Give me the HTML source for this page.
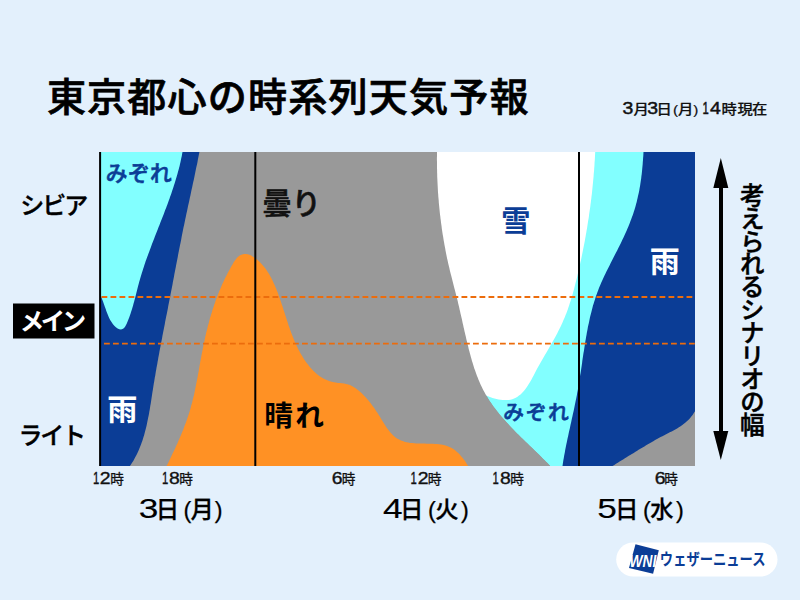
<!DOCTYPE html>
<html lang="ja">
<head>
<meta charset="utf-8">
<title>東京都心の時系列天気予報</title>
<style>
html,body{margin:0;padding:0;}
body{width:800px;height:600px;overflow:hidden;background:#e3f0fc;font-family:"Liberation Sans","Noto Sans CJK JP",sans-serif;}
svg{display:block;}
text{font-family:"Liberation Sans","Noto Sans CJK JP",sans-serif;}
.lat{font-family:"Liberation Sans","Noto Sans CJK JP",sans-serif;}
</style>
</head>
<body>
<svg width="800" height="600" viewBox="0 0 800 600">
  <rect x="0" y="0" width="800" height="600" fill="#e3f0fc"/>
  <!-- chart -->
  <rect x="100" y="152" width="595" height="314" fill="#999999"/>
  <path d="M100 152 L199.4 152.0 L199.0 154.0 L198.6 156.0 L198.2 157.9 L197.8 159.9 L197.5 161.9 L197.1 163.9 L196.6 165.9 L196.2 167.8 L195.8 169.8 L195.4 171.8 L195.0 173.8 L194.6 175.7 L194.2 177.7 L193.8 179.7 L193.3 181.7 L192.9 183.6 L192.5 185.6 L192.1 187.6 L191.6 189.5 L191.2 191.5 L190.8 193.5 L190.4 195.5 L189.9 197.4 L189.5 199.4 L189.1 201.4 L188.7 203.3 L188.2 205.3 L187.8 207.3 L187.4 209.3 L187.0 211.2 L186.5 213.2 L186.1 215.2 L185.7 217.2 L185.3 219.1 L184.9 221.1 L184.5 223.1 L184.1 225.1 L183.6 227.0 L183.2 229.0 L182.8 231.0 L182.4 233.0 L182.0 234.9 L181.6 236.9 L181.3 238.9 L180.9 240.9 L180.5 242.9 L180.1 244.8 L179.7 246.8 L179.3 248.8 L178.9 250.8 L178.5 252.8 L178.1 254.8 L177.8 256.7 L177.4 258.7 L177.0 260.7 L176.6 262.7 L176.2 264.7 L175.9 266.6 L175.5 268.6 L175.1 270.6 L174.7 272.6 L174.3 274.6 L174.0 276.6 L173.6 278.5 L173.2 280.5 L172.8 282.5 L172.5 284.5 L172.1 286.5 L171.7 288.4 L171.3 290.4 L170.9 292.4 L170.5 294.4 L170.2 296.4 L169.8 298.3 L169.4 300.3 L169.0 302.3 L168.6 304.3 L168.2 306.2 L167.9 308.2 L167.5 310.2 L167.1 312.2 L166.7 314.2 L166.3 316.1 L165.9 318.1 L165.5 320.1 L165.1 322.1 L164.8 324.1 L164.4 326.0 L164.0 328.0 L163.6 330.0 L163.2 332.0 L162.8 333.9 L162.4 335.9 L162.1 337.9 L161.7 339.9 L161.3 341.9 L160.9 343.8 L160.6 345.8 L160.2 347.8 L159.8 349.8 L159.4 351.8 L159.1 353.8 L158.7 355.8 L158.3 357.7 L158.0 359.7 L157.6 361.7 L157.3 363.7 L156.9 365.7 L156.5 367.7 L156.2 369.7 L155.8 371.7 L155.5 373.7 L155.2 375.7 L154.8 377.6 L154.5 379.6 L154.2 381.6 L153.8 383.6 L153.5 385.6 L153.2 387.6 L152.9 389.6 L152.5 391.7 L152.2 393.7 L151.9 395.7 L151.6 397.7 L151.3 399.7 L151.0 401.7 L150.7 403.7 L150.3 405.7 L150.0 407.7 L149.7 409.7 L149.3 411.7 L149.0 413.7 L148.6 415.7 L148.2 417.6 L147.8 419.6 L147.4 421.6 L147.0 423.5 L146.6 425.5 L146.1 427.5 L145.6 429.4 L145.1 431.3 L144.6 433.3 L144.1 435.2 L143.5 437.1 L142.9 439.0 L142.3 440.9 L141.6 442.8 L141.0 444.6 L140.2 446.5 L139.5 448.3 L138.7 450.2 L137.9 452.0 L137.1 453.8 L136.2 455.6 L135.2 457.3 L134.3 459.1 L133.3 460.9 L132.2 462.6 L131.1 464.3 L130.0 466.0 L100 466 Z" fill="#0b3d96"/>
  <path d="M100 152 L182.5 152.0 L182.1 154.0 L181.8 156.0 L181.3 158.0 L180.9 160.0 L180.5 161.9 L180.0 163.9 L179.6 165.9 L179.1 167.8 L178.6 169.8 L178.0 171.7 L177.5 173.7 L177.0 175.6 L176.4 177.6 L175.8 179.5 L175.2 181.4 L174.6 183.4 L174.0 185.3 L173.4 187.2 L172.8 189.1 L172.1 191.1 L171.5 193.0 L170.8 194.9 L170.1 196.8 L169.5 198.7 L168.8 200.6 L168.1 202.5 L167.4 204.4 L166.7 206.3 L166.0 208.2 L165.2 210.1 L164.5 212.0 L163.8 213.9 L163.1 215.8 L162.3 217.7 L161.6 219.6 L160.8 221.4 L160.1 223.3 L159.4 225.2 L158.6 227.1 L157.9 229.0 L157.1 230.9 L156.4 232.8 L155.7 234.6 L154.9 236.5 L154.2 238.4 L153.5 240.3 L152.7 242.2 L152.0 244.1 L151.3 246.0 L150.6 247.9 L149.9 249.8 L149.2 251.7 L148.5 253.5 L147.8 255.4 L147.1 257.3 L146.4 259.2 L145.7 261.1 L145.1 263.1 L144.4 265.0 L143.8 266.9 L143.2 268.8 L142.6 270.7 L142.0 272.6 L141.4 274.5 L140.8 276.5 L140.2 278.4 L139.7 280.3 L139.1 282.3 L138.6 284.2 L138.1 286.1 L137.6 288.1 L137.1 290.0 L136.6 292.0 L136.1 293.9 L135.6 295.9 L135.1 297.9 L134.6 299.8 L134.1 301.8 L133.5 303.8 L133.0 305.7 L132.4 307.7 L131.8 309.7 L131.2 311.6 L130.6 313.6 L129.9 315.6 L129.2 317.5 L128.4 319.5 L127.6 321.5 L126.8 323.4 L125.9 325.2 L124.9 326.9 L123.8 328.2 L122.5 329.1 L121.0 329.4 L119.3 329.2 L117.6 328.4 L115.9 327.3 L114.3 325.8 L112.8 324.0 L111.5 322.1 L110.3 320.2 L109.4 318.4 L108.5 316.5 L107.7 314.6 L107.0 312.8 L106.3 310.9 L105.7 309.1 L105.0 307.2 L104.4 305.4 L103.7 303.5 L103.0 301.6 L102.3 299.8 L101.6 297.9 L100.8 295.9 L100.0 294.0 Z" fill="#82ffff"/>
  <path d="M437.0 152.0 L437.0 154.0 L437.0 156.1 L436.9 158.1 L436.9 160.1 L437.0 162.1 L437.0 164.2 L437.0 166.2 L437.0 168.2 L437.1 170.2 L437.1 172.2 L437.2 174.3 L437.2 176.3 L437.3 178.3 L437.4 180.3 L437.5 182.4 L437.6 184.4 L437.7 186.4 L437.8 188.4 L437.9 190.4 L438.0 192.5 L438.2 194.5 L438.3 196.5 L438.5 198.5 L438.7 200.5 L438.8 202.5 L439.0 204.5 L439.2 206.6 L439.4 208.6 L439.6 210.6 L439.8 212.6 L440.0 214.6 L440.3 216.6 L440.5 218.6 L440.8 220.6 L441.0 222.6 L441.3 224.6 L441.6 226.6 L441.8 228.6 L442.1 230.6 L442.4 232.6 L442.7 234.6 L443.1 236.6 L443.4 238.6 L443.7 240.6 L444.1 242.6 L444.4 244.6 L444.8 246.6 L445.2 248.5 L445.5 250.5 L445.9 252.5 L446.3 254.5 L446.7 256.5 L447.1 258.4 L447.6 260.4 L448.0 262.4 L448.4 264.3 L448.9 266.3 L449.4 268.3 L449.8 270.2 L450.3 272.2 L450.8 274.2 L451.3 276.1 L451.8 278.1 L452.3 280.0 L452.8 282.0 L453.3 283.9 L453.8 285.9 L454.3 287.9 L454.8 289.8 L455.3 291.8 L455.8 293.7 L456.3 295.7 L456.8 297.6 L457.3 299.6 L457.8 301.6 L458.2 303.5 L458.7 305.5 L459.2 307.5 L459.6 309.5 L460.1 311.4 L460.5 313.4 L461.0 315.4 L461.4 317.3 L461.9 319.3 L462.3 321.3 L462.7 323.3 L463.2 325.3 L463.6 327.2 L464.1 329.2 L464.5 331.2 L465.0 333.2 L465.4 335.1 L465.9 337.1 L466.3 339.1 L466.8 341.1 L467.3 343.0 L467.8 345.0 L468.3 347.0 L468.7 349.0 L469.3 350.9 L469.8 352.9 L470.3 354.8 L470.8 356.8 L471.4 358.7 L471.9 360.7 L472.5 362.6 L473.1 364.6 L473.7 366.5 L474.3 368.4 L475.0 370.3 L475.7 372.2 L476.3 374.1 L477.0 376.0 L477.8 377.8 L478.5 379.7 L479.3 381.5 L480.1 383.4 L480.9 385.2 L481.8 387.0 L482.6 388.8 L483.5 390.6 L484.5 392.3 L485.4 394.1 L486.4 395.8 L487.5 397.5 L488.5 399.2 L489.6 400.9 L490.7 402.6 L491.9 404.2 L493.0 405.9 L494.2 407.5 L495.4 409.1 L496.7 410.7 L497.9 412.3 L499.2 413.9 L500.5 415.4 L501.8 417.0 L503.1 418.5 L504.5 420.0 L505.8 421.6 L507.2 423.1 L508.6 424.6 L509.9 426.0 L511.3 427.5 L512.8 429.0 L514.2 430.4 L515.6 431.9 L517.0 433.4 L518.5 434.8 L519.9 436.2 L521.4 437.7 L522.8 439.1 L524.3 440.5 L525.8 441.9 L527.2 443.3 L528.7 444.8 L530.2 446.2 L531.6 447.6 L533.1 449.0 L534.6 450.4 L536.0 451.8 L537.5 453.2 L538.9 454.6 L540.3 456.0 L541.8 457.4 L543.2 458.9 L544.6 460.3 L546.0 461.7 L547.4 463.1 L548.8 464.6 L550.2 466.0 L695 466 L695 152 Z" fill="#82ffff"/>
  <path d="M430 152 L430 395 L485.0 395.0 L486.8 395.7 L488.7 396.5 L490.6 397.2 L492.5 397.9 L494.5 398.5 L496.5 399.0 L498.6 399.5 L500.6 399.8 L502.6 400.0 L504.6 400.1 L506.6 400.1 L508.6 400.0 L510.5 399.7 L512.3 399.2 L514.1 398.6 L515.8 397.7 L517.5 396.8 L519.0 395.6 L520.5 394.4 L522.0 393.0 L523.4 391.5 L524.7 389.9 L526.0 388.3 L527.2 386.6 L528.3 384.8 L529.4 383.0 L530.5 381.2 L531.5 379.4 L532.5 377.6 L533.5 375.7 L534.4 373.9 L535.4 372.1 L536.3 370.3 L537.2 368.5 L538.2 366.7 L539.2 365.0 L540.2 363.2 L541.2 361.5 L542.2 359.7 L543.2 358.0 L544.2 356.3 L545.2 354.5 L546.3 352.8 L547.3 351.1 L548.3 349.3 L549.3 347.6 L550.3 345.8 L551.3 344.1 L552.3 342.3 L553.3 340.6 L554.3 338.8 L555.3 337.0 L556.2 335.2 L557.2 333.4 L558.1 331.6 L559.0 329.8 L559.9 328.0 L560.8 326.2 L561.7 324.3 L562.5 322.5 L563.3 320.6 L564.1 318.8 L564.9 316.9 L565.6 315.0 L566.4 313.2 L567.1 311.3 L567.8 309.4 L568.4 307.4 L569.1 305.5 L569.7 303.6 L570.3 301.7 L571.0 299.7 L571.5 297.8 L572.1 295.9 L572.7 293.9 L573.2 291.9 L573.8 290.0 L574.3 288.0 L574.8 286.1 L575.3 284.1 L575.8 282.1 L576.3 280.2 L576.8 278.2 L577.3 276.2 L577.7 274.2 L578.2 272.2 L578.7 270.3 L579.1 268.3 L579.6 266.3 L580.0 264.3 L580.4 262.3 L580.9 260.4 L581.3 258.4 L581.7 256.4 L582.1 254.4 L582.5 252.4 L582.9 250.4 L583.3 248.5 L583.7 246.5 L584.1 244.5 L584.5 242.5 L584.9 240.5 L585.2 238.5 L585.6 236.5 L585.9 234.5 L586.3 232.5 L586.6 230.5 L587.0 228.5 L587.3 226.5 L587.6 224.5 L587.9 222.5 L588.2 220.5 L588.6 218.5 L588.9 216.5 L589.1 214.5 L589.4 212.5 L589.7 210.5 L590.0 208.5 L590.3 206.5 L590.5 204.5 L590.8 202.5 L591.0 200.5 L591.3 198.5 L591.5 196.5 L591.8 194.4 L592.0 192.4 L592.2 190.4 L592.4 188.4 L592.6 186.4 L592.8 184.4 L593.0 182.4 L593.2 180.3 L593.4 178.3 L593.6 176.3 L593.7 174.3 L593.9 172.3 L594.1 170.2 L594.2 168.2 L594.4 166.2 L594.5 164.2 L594.6 162.1 L594.8 160.1 L594.9 158.1 L595.0 156.1 L595.1 154.0 L595.2 152.0 Z" fill="#ffffff"/>
  <path d="M430 152 L437.0 152.0 L437.0 154.0 L437.0 156.1 L436.9 158.1 L436.9 160.1 L437.0 162.1 L437.0 164.2 L437.0 166.2 L437.0 168.2 L437.1 170.2 L437.1 172.2 L437.2 174.3 L437.2 176.3 L437.3 178.3 L437.4 180.3 L437.5 182.4 L437.6 184.4 L437.7 186.4 L437.8 188.4 L437.9 190.4 L438.0 192.5 L438.2 194.5 L438.3 196.5 L438.5 198.5 L438.7 200.5 L438.8 202.5 L439.0 204.5 L439.2 206.6 L439.4 208.6 L439.6 210.6 L439.8 212.6 L440.0 214.6 L440.3 216.6 L440.5 218.6 L440.8 220.6 L441.0 222.6 L441.3 224.6 L441.6 226.6 L441.8 228.6 L442.1 230.6 L442.4 232.6 L442.7 234.6 L443.1 236.6 L443.4 238.6 L443.7 240.6 L444.1 242.6 L444.4 244.6 L444.8 246.6 L445.2 248.5 L445.5 250.5 L445.9 252.5 L446.3 254.5 L446.7 256.5 L447.1 258.4 L447.6 260.4 L448.0 262.4 L448.4 264.3 L448.9 266.3 L449.4 268.3 L449.8 270.2 L450.3 272.2 L450.8 274.2 L451.3 276.1 L451.8 278.1 L452.3 280.0 L452.8 282.0 L453.3 283.9 L453.8 285.9 L454.3 287.9 L454.8 289.8 L455.3 291.8 L455.8 293.7 L456.3 295.7 L456.8 297.6 L457.3 299.6 L457.8 301.6 L458.2 303.5 L458.7 305.5 L459.2 307.5 L459.6 309.5 L460.1 311.4 L460.5 313.4 L461.0 315.4 L461.4 317.3 L461.9 319.3 L462.3 321.3 L462.7 323.3 L463.2 325.3 L463.6 327.2 L464.1 329.2 L464.5 331.2 L465.0 333.2 L465.4 335.1 L465.9 337.1 L466.3 339.1 L466.8 341.1 L467.3 343.0 L467.8 345.0 L468.3 347.0 L468.7 349.0 L469.3 350.9 L469.8 352.9 L470.3 354.8 L470.8 356.8 L471.4 358.7 L471.9 360.7 L472.5 362.6 L473.1 364.6 L473.7 366.5 L474.3 368.4 L475.0 370.3 L475.7 372.2 L476.3 374.1 L477.0 376.0 L477.8 377.8 L478.5 379.7 L479.3 381.5 L480.1 383.4 L480.9 385.2 L481.8 387.0 L482.6 388.8 L483.5 390.6 L484.5 392.3 L485.4 394.1 L486.4 395.8 L487.5 397.5 L488.5 399.2 L489.6 400.9 L490.7 402.6 L491.9 404.2 L493.0 405.9 L494.2 407.5 L495.4 409.1 L496.7 410.7 L497.9 412.3 L499.2 413.9 L500.5 415.4 L501.8 417.0 L503.1 418.5 L504.5 420.0 L505.8 421.6 L507.2 423.1 L508.6 424.6 L509.9 426.0 L511.3 427.5 L512.8 429.0 L514.2 430.4 L515.6 431.9 L517.0 433.4 L518.5 434.8 L519.9 436.2 L521.4 437.7 L522.8 439.1 L524.3 440.5 L525.8 441.9 L527.2 443.3 L528.7 444.8 L530.2 446.2 L531.6 447.6 L533.1 449.0 L534.6 450.4 L536.0 451.8 L537.5 453.2 L538.9 454.6 L540.3 456.0 L541.8 457.4 L543.2 458.9 L544.6 460.3 L546.0 461.7 L547.4 463.1 L548.8 464.6 L550.2 466.0 L430 466 Z" fill="#999999"/>
  <path d="M166.6 466.0 L167.5 464.2 L168.4 462.4 L169.3 460.6 L170.1 458.8 L171.0 457.0 L171.9 455.1 L172.7 453.3 L173.6 451.5 L174.5 449.7 L175.3 447.9 L176.1 446.0 L177.0 444.2 L177.8 442.4 L178.6 440.5 L179.4 438.7 L180.2 436.8 L181.0 435.0 L181.8 433.1 L182.5 431.2 L183.3 429.4 L184.0 427.5 L184.7 425.6 L185.4 423.8 L186.1 421.9 L186.8 420.0 L187.4 418.1 L188.1 416.2 L188.7 414.3 L189.3 412.4 L189.9 410.4 L190.5 408.5 L191.0 406.6 L191.5 404.6 L192.1 402.7 L192.5 400.7 L193.0 398.8 L193.5 396.8 L194.0 394.9 L194.4 392.9 L194.8 390.9 L195.2 388.9 L195.6 387.0 L196.0 385.0 L196.4 383.0 L196.8 381.0 L197.2 379.0 L197.6 377.1 L197.9 375.1 L198.3 373.1 L198.7 371.1 L199.0 369.1 L199.4 367.1 L199.7 365.1 L200.1 363.1 L200.4 361.1 L200.8 359.2 L201.2 357.2 L201.5 355.2 L201.9 353.2 L202.3 351.2 L202.7 349.3 L203.1 347.3 L203.5 345.3 L203.9 343.4 L204.3 341.4 L204.7 339.4 L205.1 337.5 L205.6 335.5 L206.0 333.6 L206.5 331.6 L207.0 329.7 L207.5 327.8 L207.9 325.8 L208.5 323.9 L209.0 322.0 L209.5 320.0 L210.0 318.1 L210.6 316.2 L211.2 314.3 L211.8 312.4 L212.3 310.5 L213.0 308.6 L213.6 306.7 L214.2 304.8 L214.9 302.9 L215.5 301.0 L216.2 299.1 L216.9 297.2 L217.7 295.3 L218.4 293.5 L219.1 291.6 L219.9 289.7 L220.7 287.9 L221.5 286.0 L222.3 284.1 L223.2 282.3 L224.0 280.4 L224.9 278.6 L225.8 276.7 L226.8 274.9 L227.7 273.0 L228.7 271.2 L229.7 269.4 L230.7 267.6 L231.7 265.7 L232.8 263.9 L233.8 262.1 L235.0 260.4 L236.2 258.8 L237.5 257.3 L239.0 256.1 L240.6 255.1 L242.2 254.4 L244.0 254.0 L245.8 253.9 L247.6 254.2 L249.4 254.8 L251.2 255.6 L252.9 256.7 L254.6 257.8 L256.2 259.0 L257.8 260.2 L259.2 261.6 L260.7 262.9 L262.0 264.4 L263.3 265.9 L264.6 267.4 L265.8 269.0 L266.9 270.7 L268.0 272.4 L269.1 274.1 L270.1 275.9 L271.0 277.6 L272.0 279.5 L272.9 281.3 L273.7 283.2 L274.6 285.0 L275.4 286.9 L276.2 288.8 L276.9 290.7 L277.7 292.6 L278.4 294.6 L279.1 296.5 L279.8 298.4 L280.4 300.3 L281.1 302.3 L281.7 304.2 L282.4 306.1 L283.0 308.1 L283.6 310.0 L284.3 311.9 L284.9 313.9 L285.5 315.8 L286.1 317.7 L286.7 319.6 L287.4 321.5 L288.0 323.5 L288.6 325.4 L289.3 327.3 L289.9 329.1 L290.6 331.0 L291.3 332.9 L292.0 334.8 L292.7 336.6 L293.5 338.5 L294.2 340.3 L295.0 342.2 L295.8 344.0 L296.6 345.8 L297.5 347.6 L298.4 349.4 L299.3 351.1 L300.3 352.9 L301.2 354.6 L302.3 356.3 L303.3 358.0 L304.4 359.7 L305.6 361.4 L306.7 363.0 L308.0 364.6 L309.2 366.2 L310.5 367.8 L311.9 369.2 L313.3 370.7 L314.7 372.1 L316.2 373.4 L317.7 374.7 L319.3 375.9 L320.9 377.0 L322.6 378.0 L324.3 379.0 L326.1 379.8 L327.9 380.6 L329.8 381.3 L331.7 381.8 L333.7 382.3 L335.8 382.6 L337.8 382.9 L339.9 383.1 L342.0 383.3 L344.1 383.6 L346.1 383.9 L348.1 384.4 L350.0 385.0 L351.8 385.9 L353.6 386.9 L355.3 388.0 L356.9 389.2 L358.5 390.5 L360.0 391.8 L361.5 393.1 L362.9 394.5 L364.3 395.9 L365.6 397.3 L366.9 398.8 L368.2 400.2 L369.4 401.8 L370.7 403.3 L371.9 404.9 L373.0 406.5 L374.2 408.1 L375.3 409.7 L376.4 411.4 L377.6 413.1 L378.7 414.9 L379.8 416.6 L380.9 418.4 L382.0 420.2 L383.1 422.0 L384.2 423.8 L385.3 425.6 L386.5 427.4 L387.7 429.1 L389.0 430.7 L390.2 432.3 L391.6 433.8 L393.0 435.2 L394.4 436.5 L395.9 437.7 L397.5 438.7 L399.1 439.6 L400.9 440.4 L402.6 441.1 L404.5 441.7 L406.3 442.2 L408.3 442.5 L410.2 442.9 L412.2 443.1 L414.3 443.3 L416.3 443.4 L418.4 443.5 L420.5 443.6 L422.5 443.6 L424.6 443.6 L426.7 443.7 L428.8 443.7 L430.9 443.7 L432.9 443.8 L434.9 443.9 L436.9 444.0 L438.9 444.2 L440.8 444.5 L442.7 444.8 L444.6 445.2 L446.4 445.8 L448.2 446.4 L450.0 447.2 L451.7 448.1 L453.4 449.1 L455.1 450.3 L456.7 451.7 L458.2 453.1 L459.7 454.6 L461.1 456.2 L462.5 457.8 L463.8 459.5 L465.0 461.1 L466.1 462.8 L467.1 464.4 L468.1 466.0 Z" fill="#ff9124"/>
  <path d="M643.5 152.0 L643.4 154.0 L643.3 156.0 L643.1 158.1 L643.0 160.1 L642.8 162.1 L642.7 164.1 L642.5 166.1 L642.3 168.1 L642.1 170.2 L641.9 172.2 L641.7 174.2 L641.4 176.2 L641.2 178.2 L640.9 180.2 L640.6 182.2 L640.3 184.2 L640.0 186.2 L639.6 188.2 L639.3 190.2 L638.9 192.2 L638.5 194.1 L638.0 196.1 L637.6 198.1 L637.1 200.0 L636.7 202.0 L636.1 203.9 L635.6 205.9 L635.1 207.8 L634.5 209.7 L633.9 211.6 L633.3 213.5 L632.6 215.4 L631.9 217.3 L631.2 219.2 L630.5 221.1 L629.8 223.0 L629.1 224.8 L628.3 226.7 L627.5 228.5 L626.7 230.4 L625.9 232.2 L625.1 234.1 L624.2 235.9 L623.4 237.7 L622.5 239.6 L621.6 241.4 L620.8 243.2 L619.9 245.0 L619.0 246.8 L618.1 248.6 L617.2 250.4 L616.2 252.2 L615.3 254.0 L614.4 255.8 L613.5 257.6 L612.5 259.4 L611.6 261.2 L610.7 263.0 L609.8 264.9 L608.9 266.7 L608.0 268.5 L607.1 270.3 L606.2 272.1 L605.3 273.9 L604.4 275.7 L603.6 277.5 L602.7 279.4 L601.9 281.2 L601.1 283.0 L600.3 284.9 L599.5 286.7 L598.8 288.6 L598.1 290.4 L597.4 292.3 L596.7 294.2 L596.0 296.1 L595.4 298.0 L594.8 299.9 L594.2 301.8 L593.6 303.7 L593.0 305.6 L592.5 307.6 L592.0 309.5 L591.5 311.4 L591.0 313.4 L590.5 315.3 L590.0 317.3 L589.6 319.3 L589.2 321.2 L588.8 323.2 L588.3 325.2 L587.9 327.1 L587.6 329.1 L587.2 331.1 L586.8 333.1 L586.5 335.0 L586.1 337.0 L585.8 339.0 L585.4 341.0 L585.1 343.0 L584.8 345.0 L584.5 347.0 L584.2 349.0 L583.9 351.0 L583.5 353.0 L583.2 355.0 L582.9 357.0 L582.6 359.0 L582.3 361.0 L582.1 363.0 L581.8 365.0 L581.5 367.0 L581.2 369.0 L580.9 371.0 L580.6 373.0 L580.2 375.0 L579.9 377.0 L579.6 379.0 L579.3 381.0 L579.0 383.0 L578.6 385.0 L578.3 387.0 L578.0 389.0 L577.6 391.0 L577.2 392.9 L576.9 394.9 L576.5 396.9 L576.1 398.9 L575.7 400.8 L575.3 402.8 L574.9 404.8 L574.5 406.8 L574.1 408.7 L573.7 410.7 L573.2 412.7 L572.8 414.6 L572.4 416.6 L571.9 418.6 L571.5 420.5 L571.1 422.5 L570.6 424.5 L570.2 426.4 L569.8 428.4 L569.3 430.4 L568.9 432.3 L568.5 434.3 L568.1 436.3 L567.6 438.2 L567.2 440.2 L566.8 442.2 L566.4 444.1 L566.0 446.1 L565.6 448.1 L565.2 450.1 L564.9 452.1 L564.5 454.0 L564.1 456.0 L563.8 458.0 L563.4 460.0 L563.1 462.0 L562.8 464.0 L562.5 466.0 L695 466 L695 152 Z" fill="#0b3d96"/>
  <path d="M612.5 466.0 L614.3 464.9 L616.0 463.8 L617.8 462.7 L619.6 461.6 L621.3 460.5 L623.1 459.4 L624.9 458.3 L626.6 457.2 L628.4 456.1 L630.2 455.0 L631.9 453.9 L633.7 452.9 L635.5 451.8 L637.2 450.7 L639.0 449.6 L640.8 448.5 L642.6 447.5 L644.4 446.4 L646.1 445.3 L647.9 444.3 L649.7 443.2 L651.5 442.2 L653.3 441.2 L655.1 440.1 L657.0 439.1 L658.8 438.1 L660.6 437.1 L662.4 436.2 L664.3 435.2 L666.1 434.2 L668.0 433.3 L669.8 432.3 L671.7 431.4 L673.5 430.4 L675.3 429.4 L677.1 428.4 L678.9 427.3 L680.6 426.2 L682.3 425.0 L683.9 423.8 L685.5 422.5 L687.1 421.1 L688.6 419.7 L690.0 418.2 L691.3 416.6 L692.6 414.9 L693.8 413.1 L695.0 411.2 L695 466 Z" fill="#999999"/>
  <!-- dashed lines -->
  <line x1="101.5" y1="297" x2="695" y2="297" stroke="#ec6c0c" stroke-width="1.8" stroke-dasharray="5.8 3.2"/>
  <line x1="104" y1="343.7" x2="695" y2="343.7" stroke="#ec6c0c" stroke-width="1.8" stroke-dasharray="5.8 3.2"/>
  <!-- vertical lines -->
  <rect x="99.1" y="152" width="2" height="314" fill="#000"/>
  <rect x="254.3" y="152" width="2" height="314" fill="#000"/>
  <rect x="578" y="152" width="2" height="314" fill="#000"/>
  <!-- title -->
  <text x="46.9" y="111.3" font-size="39.1" font-weight="500" fill="#000" stroke="#000" stroke-width="0.7" letter-spacing="1.15">東京都心の時系列天気予報</text>
  <text y="113.6" font-size="13.7" font-weight="500" fill="#111" stroke="#111" stroke-width="0.2"><tspan class="lat" font-size="16.2" font-weight="400" stroke="#111" stroke-width="0.45" x="622.4" textLength="10.8" lengthAdjust="spacingAndGlyphs">3</tspan><tspan x="633.6" textLength="15.3" lengthAdjust="spacingAndGlyphs">月</tspan><tspan class="lat" font-size="16.2" font-weight="400" stroke="#111" stroke-width="0.45" x="647.2" textLength="10.8" lengthAdjust="spacingAndGlyphs">3</tspan><tspan x="656.4 673.1 678.1 693.3" textLength="40.9" lengthAdjust="spacingAndGlyphs">日(月)</tspan><tspan class="lat" font-size="16.2" font-weight="400" stroke="#111" stroke-width="0.45" x="702.4" textLength="6.3" lengthAdjust="spacingAndGlyphs">1</tspan><tspan class="lat" font-size="16.2" font-weight="400" stroke="#111" stroke-width="0.45" x="710.0" textLength="10.8" lengthAdjust="spacingAndGlyphs">4</tspan><tspan x="721.4 737.6 751.9" textLength="46.0" lengthAdjust="spacingAndGlyphs">時現在</tspan></text>
  <text y="483.6" font-size="13.6" font-weight="400" fill="#111" stroke="#111" stroke-width="0.3"><tspan class="lat" font-size="16.2" font-weight="400" stroke="#111" stroke-width="0.35" x="92.9" textLength="6.3" lengthAdjust="spacingAndGlyphs">1</tspan><tspan class="lat" font-size="16.2" font-weight="400" stroke="#111" stroke-width="0.35" x="99.8" textLength="10.8" lengthAdjust="spacingAndGlyphs">2</tspan><tspan x="110.3">時</tspan></text>
  <text y="483.6" font-size="13.6" font-weight="400" fill="#111" stroke="#111" stroke-width="0.3"><tspan class="lat" font-size="16.2" font-weight="400" stroke="#111" stroke-width="0.35" x="161.9" textLength="6.3" lengthAdjust="spacingAndGlyphs">1</tspan><tspan class="lat" font-size="16.2" font-weight="400" stroke="#111" stroke-width="0.35" x="168.9" textLength="10.8" lengthAdjust="spacingAndGlyphs">8</tspan><tspan x="179.3">時</tspan></text>
  <text y="483.6" font-size="13.6" font-weight="400" fill="#111" stroke="#111" stroke-width="0.3"><tspan class="lat" font-size="16.2" font-weight="400" stroke="#111" stroke-width="0.35" x="331.8" textLength="10.8" lengthAdjust="spacingAndGlyphs">6</tspan><tspan x="341.7">時</tspan></text>
  <text y="483.6" font-size="13.6" font-weight="400" fill="#111" stroke="#111" stroke-width="0.3"><tspan class="lat" font-size="16.2" font-weight="400" stroke="#111" stroke-width="0.35" x="410.6" textLength="6.3" lengthAdjust="spacingAndGlyphs">1</tspan><tspan class="lat" font-size="16.2" font-weight="400" stroke="#111" stroke-width="0.35" x="417.8" textLength="10.8" lengthAdjust="spacingAndGlyphs">2</tspan><tspan x="427.8">時</tspan></text>
  <text y="483.6" font-size="13.6" font-weight="400" fill="#111" stroke="#111" stroke-width="0.3"><tspan class="lat" font-size="16.2" font-weight="400" stroke="#111" stroke-width="0.35" x="492.6" textLength="6.3" lengthAdjust="spacingAndGlyphs">1</tspan><tspan class="lat" font-size="16.2" font-weight="400" stroke="#111" stroke-width="0.35" x="499.9" textLength="10.8" lengthAdjust="spacingAndGlyphs">8</tspan><tspan x="510.3">時</tspan></text>
  <text y="483.6" font-size="13.6" font-weight="400" fill="#111" stroke="#111" stroke-width="0.3"><tspan class="lat" font-size="16.2" font-weight="400" stroke="#111" stroke-width="0.35" x="654.7" textLength="10.8" lengthAdjust="spacingAndGlyphs">6</tspan><tspan x="664.3">時</tspan></text>
  <text y="518.2" font-size="23.4" font-weight="500" fill="#000" stroke="#000" stroke-width="0.25"><tspan class="lat" font-size="28.5" font-weight="400" stroke="#000" stroke-width="0.15" x="138.8" textLength="19.6" lengthAdjust="spacingAndGlyphs">3</tspan><tspan x="155.8 183.6 190.6 214.8">日(月)</tspan></text>
  <text y="518.2" font-size="23.4" font-weight="500" fill="#000" stroke="#000" stroke-width="0.25"><tspan class="lat" font-size="28.5" font-weight="400" stroke="#000" stroke-width="0.15" x="383.1" textLength="19.6" lengthAdjust="spacingAndGlyphs">4</tspan><tspan x="400.0 428.0 435.2 461.0">日(火)</tspan></text>
  <text y="518.2" font-size="23.4" font-weight="500" fill="#000" stroke="#000" stroke-width="0.25"><tspan class="lat" font-size="28.5" font-weight="400" stroke="#000" stroke-width="0.15" x="597.3" textLength="19.6" lengthAdjust="spacingAndGlyphs">5</tspan><tspan x="615.0 643.0 650.3 676.0">日(水)</tspan></text>
  <!-- left labels -->
  <text x="20.3" y="214.23" font-size="24.0" font-weight="500" fill="#000" stroke="#000" stroke-width="0.4" letter-spacing="-2.03">シビア</text>
  <rect x="13" y="303.5" width="81.5" height="35" fill="#000"/>
  <text x="19.76" y="329.65" font-size="24.4" font-weight="700" fill="#fff" letter-spacing="-3.37">メイン</text>
  <text x="18.59" y="444.38" font-size="24.0" font-weight="500" fill="#000" stroke="#000" stroke-width="0.4" letter-spacing="-2.34">ライト</text>
  <!-- in-chart labels -->
  <text x="105.8" y="181.18" font-size="21.72" font-weight="500" fill="#0b3d96" stroke="#0b3d96" stroke-width="0.6" letter-spacing="0.44">みぞれ</text>
  <text x="262.33" y="214.04" font-size="29.56" font-weight="500" fill="#111" stroke="#111" stroke-width="0.6" letter-spacing="-0.33">曇り</text>
  <text x="501.33" y="232.09" font-size="29.13" font-weight="700" fill="#0b3d96">雪</text>
  <text x="649.7" y="271.8" font-size="30.0" font-weight="700" fill="#fff">雨</text>
  <text x="107.24" y="420.29" font-size="30.11" font-weight="700" fill="#fff">雨</text>
  <text x="264.19" y="426.21" font-size="28.72" font-weight="700" fill="#000" letter-spacing="2.23">晴れ</text>
  <text x="503.25" y="419.74" font-size="20.8" font-weight="500" fill="#0b3d96" stroke="#0b3d96" stroke-width="0.6" letter-spacing="1.58">みぞれ</text>
  <!-- arrow -->
  <rect x="719" y="185" width="4" height="249" fill="#000"/>
  <polygon points="720.8,158 728.3,188 713.3,188" fill="#000"/>
  <polygon points="720.8,460 728.3,431 713.3,431" fill="#000"/>
  <!-- vertical text -->
  <text x="749.8" y="183" font-size="24.6" font-weight="500" fill="#000" stroke="#000" stroke-width="0.5" letter-spacing="-1.66" writing-mode="vertical-rl" style="writing-mode:vertical-rl;text-orientation:upright">考えられるシナリオの幅</text>
  <!-- logo -->
  <rect x="616.2" y="542.5" width="161.3" height="34" rx="17" ry="17" fill="#fff"/>
  <polygon points="635.5,544.3 658.8,550.3 653.1,573.7 629,568.1" fill="#0b3d96"/>
  <text class="lat" x="629.6" y="566.7" font-size="17" font-weight="700" font-style="italic" fill="#fff" textLength="26.8" lengthAdjust="spacingAndGlyphs">WNI</text>
  <text x="659.85" y="565" font-size="16.2" font-weight="700" fill="#0b3d96" textLength="105.6" lengthAdjust="spacingAndGlyphs">ウェザーニュース</text>
</svg>
</body>
</html>
